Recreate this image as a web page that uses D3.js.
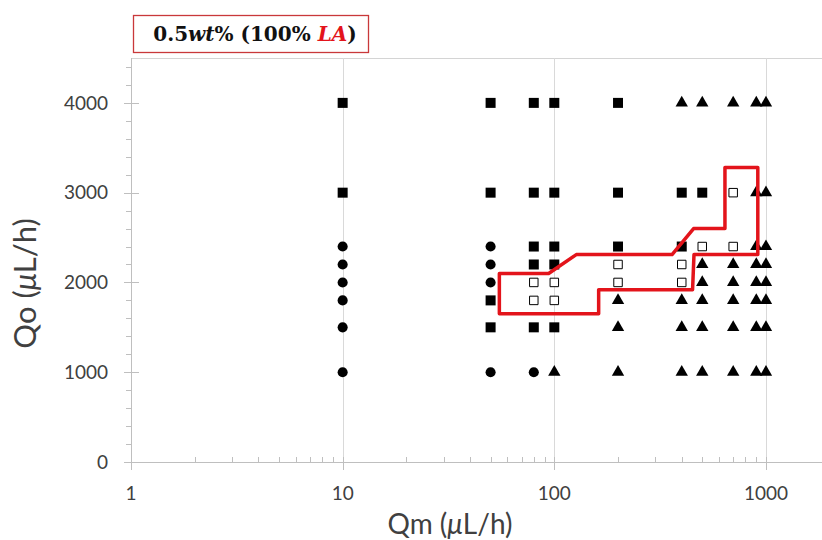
<!DOCTYPE html>
<html>
<head>
<meta charset="utf-8">
<script src="https://cdn.jsdelivr.net/npm/d3@7"></script>
<style>
  body { margin: 0; background: #fff; }
  svg { display: block; }
</style>
</head>
<body>
<svg width="822" height="540"></svg>
<script>
// chart data, Qm / Qo in uL/h
var xTicks = [1, 10, 100, 1000];
var yTicks = [0, 1000, 2000, 3000, 4000];

// filled circles
var circlePts = [[10,2400],[10,2200],[10,2000],[10,1800],[10,1500],[10,1000],
  [50,2400],[50,2200],[50,2000],[50,1000],[80,1000]];
// filled squares
var squarePts = [[10,4000],[10,3000],[50,4000],[50,3000],[50,1800],[50,1500],
  [80,4000],[80,3000],[80,2400],[80,2200],[80,1500],
  [100,4000],[100,3000],[100,2400],[100,2200],[100,1500],
  [200,4000],[200,3000],[200,2400],[400,3000],[400,2400],[500,3000]];
// open squares
var openPts = [[80,2000],[80,1800],[100,2000],[100,1800],[200,2200],[200,2000],
  [400,2200],[400,2000],[500,2400],[700,3000],[700,2400]];
// filled triangles
var trianglePts = [[100,1000],[200,1800],[200,1500],[200,1000],
  [400,4000],[400,1800],[400,1500],[400,1000],
  [500,4000],[500,2200],[500,2000],[500,1800],[500,1500],[500,1000],
  [700,4000],[700,2200],[700,2000],[700,1800],[700,1500],[700,1000],
  [900,4000],[900,3000],[900,2400],[900,2200],[900,2000],[900,1800],[900,1500],[900,1000],
  [1000,4000],[1000,3000],[1000,2400],[1000,2200],[1000,2000],[1000,1800],[1000,1500],[1000,1000]];
// red region outline
var regionPts = [[55,2100],[94,2100],[127,2310],[360,2310],[455,2600],[640,2600],
  [640,3280],[915,3280],[915,2310],[457,2310],[450,1920],[162,1920],[162,1650],[55,1650]];

var svg = d3.select('svg');
var plotL = 131, plotR = 820, plotT = 58, plotB = 462;

var x = d3.scaleLog().domain([1, 1800]).range([plotL, plotR]);
var y = d3.scaleLinear().domain([0, 4500]).range([plotB, plotT]);

var axisColor = '#bfbfbf';

// top border of plot area
svg.append('line')
  .attr('x1', plotL).attr('x2', 822).attr('y1', plotT + 0.5).attr('y2', plotT + 0.5)
  .attr('stroke', '#d4d4d4');

// vertical grid
svg.append('g').selectAll('line')
  .data(xTicks.slice(1))
  .enter().append('line')
  .attr('x1', function(d){ return Math.round(x(d)) + 0.5; })
  .attr('x2', function(d){ return Math.round(x(d)) + 0.5; })
  .attr('y1', plotT).attr('y2', plotB)
  .attr('stroke', '#d9d9d9');

// x axis
var xMinor = [];
for (var dec = 1; dec <= 1000; dec *= 10) {
  for (var k = 2; k <= 9; k++) { if (dec * k < 1800) xMinor.push(dec * k); }
}
var gx = svg.append('g');
gx.append('line')
  .attr('x1', plotL).attr('x2', 822).attr('y1', plotB + 0.5).attr('y2', plotB + 0.5)
  .attr('stroke', axisColor);
gx.selectAll('.minor').data(xMinor).enter().append('line')
  .attr('x1', function(d){ return Math.round(x(d)) + 0.5; })
  .attr('x2', function(d){ return Math.round(x(d)) + 0.5; })
  .attr('y1', plotB - 5).attr('y2', plotB)
  .attr('stroke', axisColor);
gx.selectAll('.major').data(xTicks).enter().append('line')
  .attr('x1', function(d){ return Math.round(x(d)) + 0.5; })
  .attr('x2', function(d){ return Math.round(x(d)) + 0.5; })
  .attr('y1', plotB - 5).attr('y2', plotB + 8)
  .attr('stroke', axisColor);
gx.selectAll('text').data(xTicks).enter().append('text')
  .attr('x', function(d){ return x(d); })
  .attr('y', plotB + 38)
  .attr('text-anchor', 'middle')
  .attr('font-family', 'Lato, sans-serif')
  .attr('font-size', 19)
  .attr('fill', '#404040')
  .text(function(d){ return d; });

// y axis
var yMinor = d3.range(0, 4500, 200);
var gy = svg.append('g');
gy.append('line')
  .attr('x1', plotL + 0.5).attr('x2', plotL + 0.5).attr('y1', plotT).attr('y2', plotB)
  .attr('stroke', axisColor);
gy.selectAll('.minor').data(yMinor).enter().append('line')
  .attr('x1', plotL - 5).attr('x2', plotL)
  .attr('y1', function(d){ return Math.round(y(d)) + 0.5; })
  .attr('y2', function(d){ return Math.round(y(d)) + 0.5; })
  .attr('stroke', axisColor);
gy.selectAll('.major').data(yTicks).enter().append('line')
  .attr('x1', plotL - 7).attr('x2', plotL + 8)
  .attr('y1', function(d){ return Math.round(y(d)) + 0.5; })
  .attr('y2', function(d){ return Math.round(y(d)) + 0.5; })
  .attr('stroke', axisColor);
gy.selectAll('text').data(yTicks).enter().append('text')
  .attr('x', plotL - 23)
  .attr('y', function(d){ return y(d); })
  .attr('dy', '0.35em')
  .attr('text-anchor', 'end')
  .attr('font-family', 'Lato, sans-serif')
  .attr('font-size', 19)
  .attr('fill', '#404040')
  .text(function(d){ return d; });

// axis titles
var xt = svg.append('text')
  .attr('x', 450).attr('y', 534)
  .attr('text-anchor', 'middle')
  .attr('font-family', 'Lato, sans-serif')
  .attr('font-size', 28)
  .attr('fill', '#404040');
xt.append('tspan').text('Qm (');
xt.append('tspan').attr('font-style', 'italic').text('\u03bc');
xt.append('tspan').text('L/h)');

var yt = svg.append('text')
  .attr('transform', 'translate(36,' + (y(2000) + 1) + ') rotate(-90)')
  .attr('text-anchor', 'middle')
  .attr('font-family', 'Lato, sans-serif')
  .attr('font-size', 31)
  .attr('fill', '#404040');
yt.append('tspan').text('Qo (');
yt.append('tspan').attr('font-style', 'italic').text('\u03bc');
yt.append('tspan').text('L/h)');

// markers
var marks = svg.append('g');
function px(d){ return 'translate(' + x(d[0]) + ',' + y(d[1]) + ')'; }

marks.selectAll('.circ').data(circlePts).enter().append('path')
  .attr('d', d3.symbol().type(d3.symbolCircle).size(80))
  .attr('transform', px).attr('fill', '#000');
marks.selectAll('.sq').data(squarePts).enter().append('path')
  .attr('d', d3.symbol().type(d3.symbolSquare).size(100))
  .attr('transform', px).attr('fill', '#000');
marks.selectAll('.tri').data(trianglePts).enter().append('path')
  .attr('d', d3.symbol().type(d3.symbolTriangle).size(66))
  .attr('transform', px).attr('fill', '#000');
marks.selectAll('.open').data(openPts).enter().append('path')
  .attr('d', d3.symbol().type(d3.symbolSquare).size(72))
  .attr('transform', px).attr('fill', '#fff')
  .attr('stroke', '#000').attr('stroke-width', 1);

// outline of region
svg.append('path')
  .datum(regionPts)
  .attr('d', d3.line().x(function(d){ return x(d[0]); }).y(function(d){ return y(d[1]); }).curve(d3.curveLinearClosed))
  .attr('fill', 'none')
  .attr('stroke', '#e3141b')
  .attr('stroke-width', 3.5)
  .attr('stroke-linejoin', 'round');

// title box
svg.append('rect')
  .attr('x', 133.5).attr('y', 15.5).attr('width', 235).attr('height', 37)
  .attr('fill', '#fff').attr('stroke', '#c9383a').attr('stroke-width', 1.3);
var tt = svg.append('text')
  .attr('x', 255).attr('y', 41)
  .attr('text-anchor', 'middle')
  .attr('font-family', '"DejaVu Serif", serif')
  .attr('font-weight', 'bold')
  .attr('font-size', 20)
  .attr('fill', '#111');
tt.append('tspan').text('0.5');
tt.append('tspan').attr('font-style', 'italic').text('wt');
tt.append('tspan').text('% (100% ');
tt.append('tspan').attr('font-style', 'italic').attr('fill', '#e3141b').text('LA');
tt.append('tspan').text(')');
</script>
</body>
</html>
